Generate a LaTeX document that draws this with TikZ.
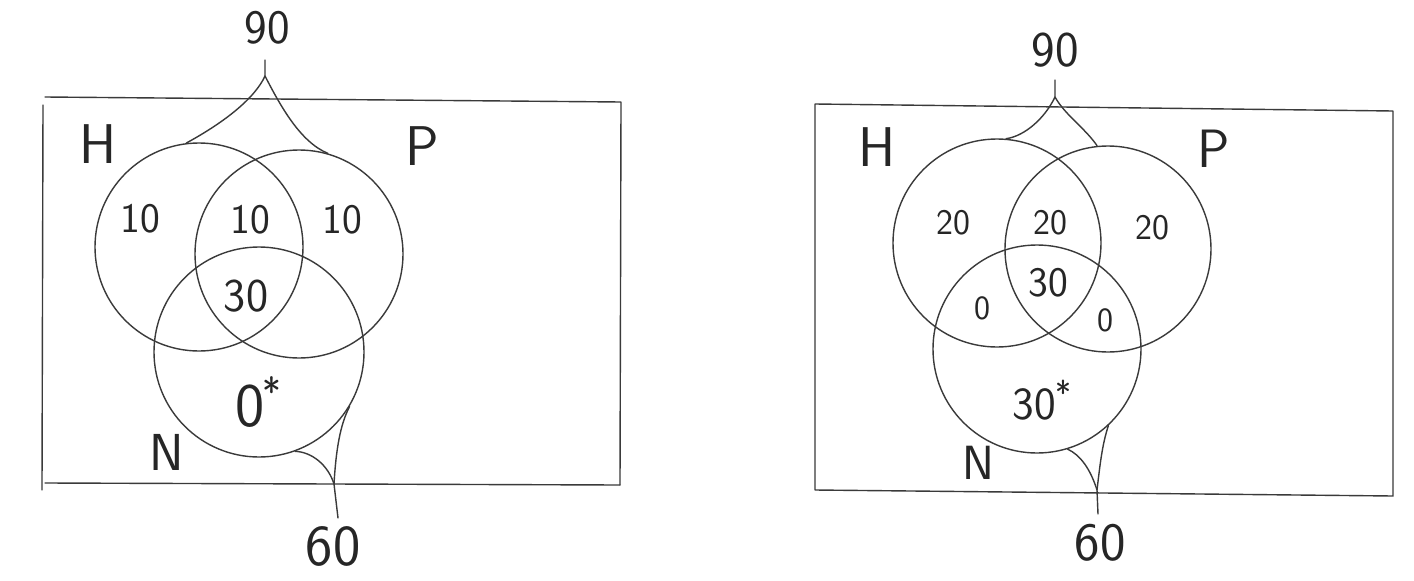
\documentclass[tikz,border=0pt]{standalone}
\usepackage{fontspec}
\definecolor{penc}{HTML}{3A3A3A}
\definecolor{inkc}{HTML}{262626}
\newcommand{\bigstarmark}[2]{\raisebox{#1}{\fontsize{#2}{#2}\selectfont *}}
\tikzset{
  penline/.style={draw=penc, line width=1.4pt, line cap=round, line join=round},
  setc/.style={circle, draw=penc, line width=1.4pt, minimum size=#1, inner sep=0pt},
  lbl/.style={text=inkc, font=\sffamily\fontsize{#1}{#1}\selectfont, inner sep=0pt},
}
\begin{document}
\begin{tikzpicture}[x=1pt,y=-1pt]
\useasboundingbox (0,0) rectangle (1414,581);
\fill[white] (0,0) rectangle (1414,581);

% ---------- left diagram ----------
\coordinate (LA) at (45,97);
\coordinate (LB) at (621,102);
\coordinate (LC) at (620,485);
\coordinate (LD) at (45,483);
\coordinate (LE) at (43,105);
\coordinate (LF) at (42,490);
\draw[penline] (LA) -- (LB) -- (LC);
\draw[penline] (LD) -- (LC);
\draw[penline] (LE) -- (LF);

\node[setc=208pt] (H1) at (199,247) {};
\node[setc=208pt] (P1) at (299,254) {};
\node[setc=210pt] (N1) at (259,352) {};

\node[lbl=48] (t90a) at (267,28) {90};
\node[lbl=56] (hA) at (98,144) {H};
\node[lbl=56] (pA) at (422,146) {P};
\node[lbl=52] (nA) at (167,452) {N};
\node[lbl=42] (r1a) at (140,219) {10};
\node[lbl=42] (r2a) at (250,220) {10};
\node[lbl=42] (r3a) at (342,220) {10};
\node[lbl=47] (r4a) at (246,296) {30};
\node[lbl=62] (r5a) at (258,402) {0\kern-2pt\bigstarmark{20pt}{40}};
\node[lbl=58] (t60a) at (333,546) {60};

\coordinate (a1) at (265,60);
\coordinate (k1) at (265,76);
\draw[penline] (a1) -- (k1) .. controls (255,98) and (225,122) .. (H1.97);
\draw[penline] (k1) .. controls (280,105) and (300,142) .. (P1.74);
\coordinate (b1) at (338,518);
\coordinate (m1) at (334,484);
\draw[penline] (b1) -- (m1) .. controls (328,465) and (312,452) .. (N1.-70);
\draw[penline] (m1) .. controls (336,450) and (340,425) .. (N1.-31);

% ---------- right diagram ----------
\coordinate (RA) at (815,104);
\coordinate (RB) at (1393,111);
\coordinate (RC) at (1393,496);
\coordinate (RD) at (815,490);
\draw[penline] (RA) -- (RB) -- (RC) -- (RD) -- (RA);

\node[setc=208pt] (H2) at (997,243) {};
\node[setc=206pt] (P2) at (1108,249) {};
\node[setc=208pt] (N2) at (1037,349) {};

\node[lbl=50] (t90b) at (1055,50) {90};
\node[lbl=56] (hB) at (877,147) {H};
\node[lbl=54] (pB) at (1214,149) {P};
\node[lbl=48] (nB) at (978,463) {N};
\node[lbl=36] (s1b) at (953,223) {20};
\node[lbl=36] (s2b) at (1050,223) {20};
\node[lbl=36] (s3b) at (1152,228) {20};
\node[lbl=34] (s4b) at (982,308) {0};
\node[lbl=42] (s5b) at (1048,283) {30};
\node[lbl=34] (s6b) at (1105,320) {0};
\node[lbl=46] (s7b) at (1042,400) {30\kern-1pt\bigstarmark{14pt}{34}};
\node[lbl=54] (t60b) at (1100,543) {60};

\coordinate (a2) at (1055,80);
\coordinate (k2) at (1055,97);
\draw[penline] (a2) -- (k2) .. controls (1045,118) and (1025,136) .. (H2.85);
\draw[penline] (k2) .. controls (1065,115) and (1085,128) .. (P2.96);
\coordinate (b2) at (1098,514);
\coordinate (m2) at (1097,490);
\draw[penline] (b2) -- (m2) .. controls (1090,468) and (1080,455) .. (N2.-73);
\draw[penline] (m2) .. controls (1100,465) and (1102,445) .. (N2.-47);
\end{tikzpicture}
\end{document}
